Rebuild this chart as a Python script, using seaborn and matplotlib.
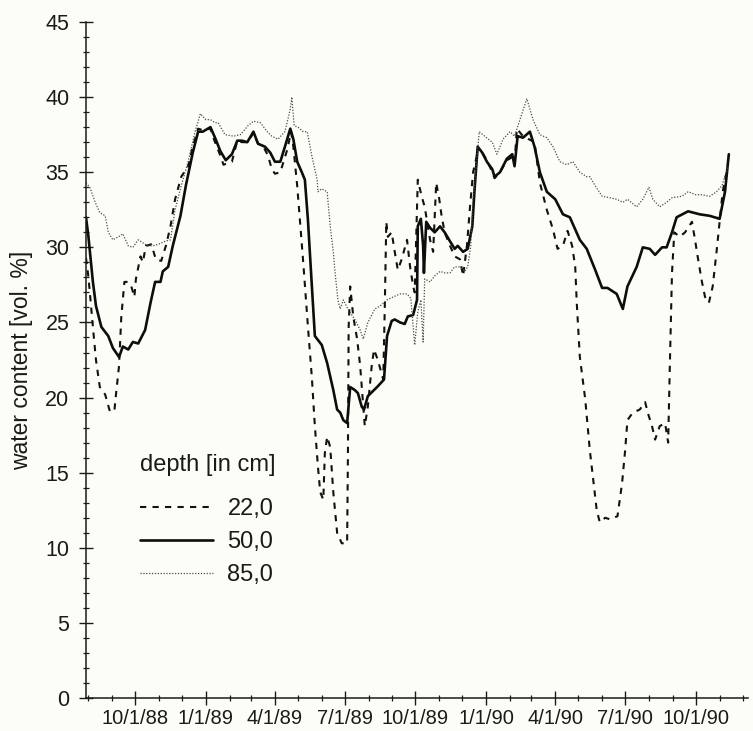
import matplotlib
matplotlib.use("Agg")
import matplotlib.pyplot as plt
import matplotlib.dates as mdates
from matplotlib.ticker import MultipleLocator, FuncFormatter
import pandas as pd
import seaborn as sns

# ---- soil water content at three depths ----
depth_labels = ["22,0", "50,0", "85,0"]
legend_title = "depth [in cm]"

dates_22 = [
    "1988-07-29", "1988-08-01", "1988-08-03", "1988-08-07", "1988-08-11", "1988-08-16",
    "1988-08-23", "1988-08-29", "1988-09-04", "1988-09-05", "1988-09-10", "1988-09-13",
    "1988-09-17", "1988-09-22", "1988-09-26", "1988-09-30", "1988-10-02", "1988-10-08",
    "1988-10-11", "1988-10-15", "1988-10-22", "1988-10-28", "1988-11-04", "1988-11-10",
    "1988-11-16", "1988-11-22", "1988-11-30", "1988-12-09", "1988-12-15", "1988-12-22",
    "1988-12-28", "1989-01-07", "1989-01-13", "1989-01-20", "1989-01-24", "1989-02-04",
    "1989-02-11", "1989-02-17", "1989-02-24", "1989-03-04", "1989-03-10", "1989-03-17",
    "1989-03-23", "1989-03-28", "1989-04-01", "1989-04-08", "1989-04-17", "1989-04-22",
    "1989-04-25", "1989-04-30", "1989-05-04", "1989-05-08", "1989-05-14", "1989-05-19",
    "1989-05-23", "1989-05-27", "1989-05-30", "1989-06-03", "1989-06-05", "1989-06-08",
    "1989-06-12", "1989-06-16", "1989-06-21", "1989-06-27", "1989-07-04", "1989-07-05",
    "1989-07-06", "1989-07-08", "1989-07-12", "1989-07-17", "1989-07-21", "1989-07-27",
    "1989-07-31", "1989-08-05", "1989-08-08", "1989-08-13", "1989-08-20", "1989-08-22",
    "1989-08-24", "1989-08-26", "1989-08-31", "1989-09-04", "1989-09-08", "1989-09-13",
    "1989-09-20", "1989-09-24", "1989-09-28", "1989-09-30", "1989-10-04", "1989-10-09",
    "1989-10-13", "1989-10-20", "1989-10-24", "1989-10-28", "1989-11-01", "1989-11-04",
    "1989-11-08", "1989-11-15", "1989-11-21", "1989-11-28", "1989-12-02", "1989-12-07",
    "1989-12-11", "1989-12-15", "1989-12-20", "1989-12-27", "1990-01-02", "1990-01-09",
    "1990-01-12", "1990-01-19", "1990-01-28", "1990-02-04", "1990-02-07", "1990-02-10",
    "1990-02-18", "1990-03-05", "1990-03-12", "1990-03-21", "1990-03-29", "1990-04-04",
    "1990-04-11", "1990-04-17", "1990-04-23", "1990-04-27", "1990-04-29", "1990-05-03",
    "1990-05-10", "1990-05-16", "1990-05-21", "1990-05-25", "1990-05-29", "1990-06-05",
    "1990-06-11", "1990-06-21", "1990-06-27", "1990-07-01", "1990-07-04", "1990-07-11",
    "1990-07-20", "1990-07-27", "1990-07-31", "1990-08-05", "1990-08-09", "1990-08-15",
    "1990-08-22", "1990-08-26", "1990-08-28", "1990-08-31", "1990-09-03", "1990-09-10",
    "1990-09-17", "1990-09-26", "1990-09-30", "1990-10-04", "1990-10-09", "1990-10-13",
    "1990-10-18", "1990-10-23", "1990-10-28", "1990-11-01", "1990-11-05", "1990-11-10",
]
water_22 = [
    29.3, 28.1, 27.0, 24.7, 22.5, 20.7,
    20.2, 19.1, 19.1, 19.7, 22.1, 25.4,
    27.7, 27.7, 27.4, 26.7, 27.9, 29.4,
    29.0, 30.1, 30.2, 29.2, 29.1, 30.1,
    31.4, 33.2, 34.7, 35.4, 36.7, 37.9,
    37.8, 37.9, 37.0, 36.1, 35.5, 35.7,
    37.1, 37.0, 37.0, 37.6, 36.9, 36.7,
    36.1, 35.2, 34.9, 35.0, 36.5, 37.7,
    36.7, 34.1, 31.5, 28.9, 24.7, 21.4,
    18.1, 15.4, 13.7, 13.2, 16.3, 17.4,
    16.7, 13.7, 11.0, 10.3, 10.3, 15.9,
    24.7, 27.4, 25.4, 23.9, 22.1, 18.1,
    19.4, 22.1, 23.2, 22.5, 21.2, 25.9,
    31.7, 30.7, 31.0, 29.7, 28.5, 29.2,
    30.5, 28.7, 27.4, 27.0, 34.5, 33.4,
    32.7, 30.5, 29.7, 34.3, 33.2, 32.1,
    31.0, 30.1, 29.4, 29.2, 28.1, 30.1,
    32.7, 35.0, 36.1, 36.3, 35.8, 35.0,
    34.6, 35.0, 35.8, 36.0, 35.6, 37.9,
    37.4, 37.0, 34.3, 32.5, 31.2, 29.9,
    30.1, 31.1, 30.1, 28.7, 26.3, 22.7,
    19.9, 16.5, 14.3, 12.5, 11.7, 12.0,
    11.9, 12.1, 14.3, 16.5, 18.5, 19.0,
    19.2, 19.7, 18.9, 18.1, 17.2, 18.1,
    18.3, 17.0, 21.7, 28.3, 31.0, 30.7,
    31.0, 31.7, 30.5, 29.2, 27.7, 26.7,
    26.3, 27.4, 29.7, 31.7, 33.7, 35.0,
]

dates_50 = [
    "1988-07-29", "1988-08-01", "1988-08-07", "1988-08-11", "1988-08-18", "1988-08-27",
    "1988-09-02", "1988-09-10", "1988-09-15", "1988-09-22", "1988-09-28", "1988-10-05",
    "1988-10-10", "1988-10-14", "1988-10-21", "1988-10-27", "1988-11-03", "1988-11-06",
    "1988-11-13", "1988-11-19", "1988-11-29", "1988-12-06", "1988-12-15", "1988-12-22",
    "1988-12-28", "1989-01-07", "1989-01-13", "1989-01-20", "1989-01-27", "1989-02-04",
    "1989-02-11", "1989-02-17", "1989-02-24", "1989-03-04", "1989-03-10", "1989-03-19",
    "1989-03-26", "1989-04-01", "1989-04-08", "1989-04-14", "1989-04-21", "1989-04-25",
    "1989-04-30", "1989-05-06", "1989-05-10", "1989-05-14", "1989-05-19", "1989-05-23",
    "1989-06-01", "1989-06-08", "1989-06-16", "1989-06-21", "1989-06-25", "1989-06-29",
    "1989-07-04", "1989-07-08", "1989-07-14", "1989-07-18", "1989-07-23", "1989-07-26",
    "1989-07-31", "1989-08-12", "1989-08-21", "1989-08-25", "1989-08-31", "1989-09-04",
    "1989-09-11", "1989-09-17", "1989-09-21", "1989-09-28", "1989-10-03", "1989-10-04",
    "1989-10-08", "1989-10-11", "1989-10-12", "1989-10-15", "1989-10-20", "1989-10-26",
    "1989-11-02", "1989-11-08", "1989-11-15", "1989-11-21", "1989-11-25", "1989-12-02",
    "1989-12-08", "1989-12-14", "1989-12-17", "1989-12-21", "1989-12-27", "1990-01-02",
    "1990-01-09", "1990-01-12", "1990-01-19", "1990-01-28", "1990-02-04", "1990-02-07",
    "1990-02-11", "1990-02-18", "1990-02-27", "1990-03-05", "1990-03-12", "1990-03-21",
    "1990-04-01", "1990-04-11", "1990-04-20", "1990-05-03", "1990-05-12", "1990-05-23",
    "1990-06-01", "1990-06-08", "1990-06-20", "1990-06-28", "1990-07-04", "1990-07-16",
    "1990-07-24", "1990-08-02", "1990-08-09", "1990-08-18", "1990-08-24", "1990-08-31",
    "1990-09-06", "1990-09-21", "1990-10-06", "1990-10-19", "1990-11-01", "1990-11-08",
    "1990-11-13",
]
water_50 = [
    32.0, 30.8, 27.7, 26.1, 24.7, 24.1,
    23.3, 22.7, 23.4, 23.2, 23.7, 23.6,
    24.1, 24.5, 26.3, 27.7, 27.7, 28.4,
    28.7, 30.1, 32.1, 34.1, 36.3, 37.7,
    37.7, 38.0, 37.3, 36.4, 35.8, 36.2,
    37.1, 37.1, 37.0, 37.7, 36.9, 36.7,
    36.3, 35.7, 35.7, 36.7, 37.9, 37.2,
    35.7, 35.0, 34.5, 31.8, 27.5, 24.1,
    23.5, 22.3, 20.5, 19.2, 19.0, 18.5,
    18.3, 20.7, 20.5, 20.3, 19.4, 19.2,
    20.1, 20.7, 21.2, 24.1, 25.1, 25.2,
    25.0, 24.9, 25.4, 25.5, 26.5, 31.4,
    31.9, 30.1, 28.3, 31.7, 31.3, 31.0,
    31.4, 31.0, 30.4, 29.9, 30.1, 29.7,
    29.9, 31.4, 33.9, 36.7, 36.3, 35.7,
    35.2, 34.7, 35.0, 35.9, 36.2, 35.4,
    37.4, 37.3, 37.7, 36.7, 35.0, 33.7,
    33.2, 32.2, 32.0, 30.5, 29.9, 28.5,
    27.3, 27.3, 26.9, 25.9, 27.4, 28.7,
    30.0, 29.9, 29.5, 30.0, 30.0, 31.0,
    32.0, 32.4, 32.2, 32.1, 31.9, 33.7,
    36.2,
]

dates_85 = [
    "1988-07-29", "1988-08-03", "1988-08-10", "1988-08-16", "1988-08-23", "1988-08-27",
    "1988-09-02", "1988-09-09", "1988-09-15", "1988-09-22", "1988-09-28", "1988-10-05",
    "1988-10-11", "1988-10-18", "1988-10-24", "1988-10-31", "1988-11-09", "1988-11-16",
    "1988-11-22", "1988-11-30", "1988-12-09", "1988-12-18", "1988-12-25", "1989-01-01",
    "1989-01-07", "1989-01-13", "1989-01-17", "1989-01-26", "1989-02-06", "1989-02-15",
    "1989-02-25", "1989-03-04", "1989-03-13", "1989-03-22", "1989-03-28", "1989-04-05",
    "1989-04-14", "1989-04-21", "1989-04-23", "1989-04-26", "1989-05-01", "1989-05-08",
    "1989-05-13", "1989-05-19", "1989-05-26", "1989-05-27", "1989-06-01", "1989-06-08",
    "1989-06-12", "1989-06-16", "1989-06-18", "1989-06-22", "1989-06-25", "1989-06-29",
    "1989-07-05", "1989-07-14", "1989-07-21", "1989-07-25", "1989-07-31", "1989-08-09",
    "1989-08-16", "1989-08-25", "1989-09-02", "1989-09-11", "1989-09-20", "1989-09-25",
    "1989-09-28", "1989-09-30", "1989-10-04", "1989-10-08", "1989-10-11", "1989-10-13",
    "1989-10-20", "1989-10-26", "1989-11-02", "1989-11-08", "1989-11-15", "1989-11-21",
    "1989-11-28", "1989-12-04", "1989-12-08", "1989-12-12", "1989-12-15", "1989-12-20",
    "1989-12-23", "1989-12-30", "1990-01-09", "1990-01-15", "1990-01-23", "1990-02-01",
    "1990-02-07", "1990-02-14", "1990-02-23", "1990-03-03", "1990-03-12", "1990-03-21",
    "1990-03-29", "1990-04-07", "1990-04-16", "1990-04-24", "1990-05-03", "1990-05-12",
    "1990-05-16", "1990-05-23", "1990-06-01", "1990-06-11", "1990-06-20", "1990-06-28",
    "1990-07-04", "1990-07-16", "1990-07-24", "1990-08-01", "1990-08-06", "1990-08-15",
    "1990-08-24", "1990-08-31", "1990-09-13", "1990-09-21", "1990-10-01", "1990-10-09",
    "1990-10-19", "1990-10-28", "1990-11-04", "1990-11-12",
]
water_85 = [
    34.3, 34.0, 33.0, 32.3, 32.1, 31.0,
    30.5, 30.7, 30.9, 30.1, 30.0, 30.5,
    30.3, 30.1, 30.1, 30.2, 30.4, 30.5,
    32.5, 34.1, 35.7, 37.7, 38.9, 38.5,
    38.5, 38.3, 38.3, 37.5, 37.4, 37.5,
    38.1, 38.4, 38.3, 37.7, 37.4, 37.2,
    37.7, 39.2, 40.0, 38.1, 38.0, 37.7,
    37.7, 36.1, 34.5, 33.7, 33.9, 33.7,
    31.4, 29.7, 28.5, 26.5, 25.9, 26.5,
    25.9, 25.2, 24.5, 23.9, 25.0, 25.9,
    26.1, 26.5, 26.7, 26.9, 26.9, 26.6,
    24.7, 23.5, 25.7, 26.5, 23.7, 27.9,
    27.7, 28.1, 28.4, 28.3, 28.3, 28.7,
    28.7, 28.4, 28.7, 30.1, 33.2, 35.9,
    37.7, 37.4, 37.0, 36.2, 37.2, 37.7,
    37.4, 38.5, 39.9, 38.5, 37.5, 37.3,
    36.7, 35.7, 35.5, 35.7, 35.0, 34.7,
    34.7, 34.1, 33.4, 33.3, 33.2, 33.0,
    33.2, 32.7, 33.2, 34.0, 33.2, 32.7,
    33.0, 33.3, 33.4, 33.7, 33.5, 33.5,
    33.4, 33.7, 34.1, 35.4,
]

x_start, x_end = "1988-07-29", "1990-12-08"

# ---- styling ----
sns.set_style("ticks")
paper = "#fdfdf8"
ink = "#1a1a1a"
plt.rcParams["font.family"] = ["Liberation Sans", "DejaVu Sans"]
plt.rcParams["text.color"] = ink
plt.rcParams["axes.labelcolor"] = ink
plt.rcParams["xtick.color"] = ink
plt.rcParams["ytick.color"] = ink

fig = plt.figure(figsize=(7.53, 7.31), dpi=100, facecolor=paper)
ax = fig.add_axes([0.1142, 0.0451, 0.8792, 0.9248])
ax.set_facecolor(paper)

series = [
    (dates_22, water_22, depth_labels[0], dict(color="#111111", lw=1.5, dashes=(3, 3.0))),
    (dates_50, water_50, depth_labels[1], dict(color="#0d0d0d", lw=1.9, dashes=())),
    (dates_85, water_85, depth_labels[2], dict(color="#4a4a4a", lw=0.9, dashes=(1, 1.3))),
]

handles = []
for d, v, lab, st in series:
    frame = pd.DataFrame({"date": pd.to_datetime(d), "water": v})
    sns.lineplot(data=frame, x="date", y="water", ax=ax, color=st["color"],
                 linewidth=st["lw"], estimator=None, sort=False)
    line = ax.lines[-1]
    if st["dashes"]:
        line.set_dashes(st["dashes"])
    line.set_label(lab)
    handles.append(line)

ax.set_xlim(pd.Timestamp(x_start), pd.Timestamp(x_end))
ax.set_ylim(0, 45)

# y axis: labelled every 5, small cross ticks every unit
ax.yaxis.set_major_locator(MultipleLocator(5))
ax.yaxis.set_minor_locator(MultipleLocator(1))
ax.yaxis.set_major_formatter(FuncFormatter(lambda v, p: f"{int(v)}"))

# x axis: quarterly labels, monthly ticks
ax.xaxis.set_major_locator(mdates.MonthLocator(bymonth=[1, 4, 7, 10]))
ax.xaxis.set_minor_locator(mdates.MonthLocator())
ax.xaxis.set_major_formatter(FuncFormatter(
    lambda v, p: (lambda t: f"{t.month}/{t.day}/{t.year % 100:02d}")(mdates.num2date(v))))

ax.tick_params(axis="both", which="major", direction="inout", length=10, width=1.0)
ax.tick_params(axis="y", which="major", pad=7, labelsize=15.5)
ax.tick_params(axis="x", which="major", pad=3, labelsize=14.5)
ax.tick_params(axis="both", which="minor", direction="inout", length=4.5, width=0.9)

for side in ("top", "right"):
    ax.spines[side].set_visible(False)
for side in ("left", "bottom"):
    ax.spines[side].set_linewidth(1.1)
    ax.spines[side].set_color(ink)

ax.set_xlabel("")
ax.set_ylabel("water content [vol. %]", fontsize=16.5, labelpad=9)

# legend: heading line, then one row per depth
fig.text(0.186, 1 - 465 / 731, legend_title, fontsize=17, ha="left", va="center")
leg = ax.legend(handles=handles, labels=depth_labels,
                loc="upper left", bbox_to_anchor=(0.186, 1 - 498 / 731),
                bbox_transform=fig.transFigure, frameon=False, fontsize=17,
                handlelength=3.1, handletextpad=0.6,
                labelspacing=0.47, borderpad=0, borderaxespad=0)

fig.savefig("out.png", dpi=100, facecolor=paper)
